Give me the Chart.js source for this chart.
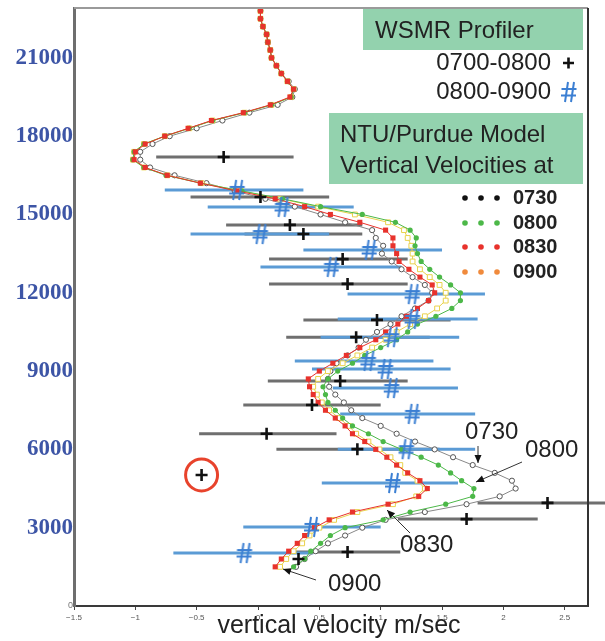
<!DOCTYPE html>
<html><head><meta charset="utf-8">
<script src="https://cdn.jsdelivr.net/npm/chart.js@4.4.1/dist/chart.umd.min.js"></script>
<style>html,body{margin:0;padding:0;background:#fff;}#wrap{width:605px;height:641px;}</style>
</head><body><div id="wrap"><canvas id="c" width="605" height="641"></canvas></div>
<script>
// ---------- DATA ----------
const heights = [1500,1800,2100,2400,2700,3000,3300,3600,3900,4200,4500,4800,5100,5400,5700,6000,6300,6600,6900,7200,7500,7800,8100,8400,8700,9000,9300,9600,9900,10200,10500,10800,11100,11400,11700,12000,12300,12600,12900,13200,13500,13800,14100,14400,14700,15000,15300,15600,15900,16200,16500,16800,17100,17400,17700,18000,18300,18600,18900,19200,19500,19800,20100,20400,20700,21000,21300,21600,21900,22200,22500,22800];
const model0730 = [0.31,0.38,0.47,0.57,0.71,0.85,1.04,1.36,1.70,1.97, 2.10,2.07,1.93,1.75,1.59,1.44,1.28,1.13,1.00,0.85, 0.76,0.70,0.63,0.58,0.57,0.59,0.64,0.73,0.82,0.88, 0.97,1.08,1.17,1.28,1.39,1.42,1.36,1.26,1.17,1.09, 1.01,1.02,0.96,0.93,0.71,0.51,0.30,0.06,-0.19,-0.42, -0.68,-0.88,-0.96,-0.96,-0.86,-0.72,-0.50,-0.29,-0.07,0.16, 0.28,0.30,0.25,0.19,0.15,0.11,0.10,0.08,0.07,0.04, 0.02,0.02];
const model0800 = [0.29,0.38,0.43,0.51,0.59,0.71,1.02,1.24,1.53,1.75, 1.76,1.66,1.57,1.47,1.33,1.17,1.02,0.90,0.77,0.69, 0.63,0.57,0.55,0.53,0.57,0.65,0.77,0.87,1.00,1.13, 1.22,1.30,1.45,1.58,1.65,1.65,1.57,1.48,1.40,1.33, 1.30,1.28,1.29,1.24,1.12,0.85,0.51,0.20,-0.13,-0.47, -0.75,-0.93,-1.02,-1.01,-0.93,-0.76,-0.56,-0.37,-0.11,0.11, 0.27,0.29,0.24,0.19,0.15,0.11,0.10,0.08,0.07,0.04, 0.02,0.02];
const model0830 = [0.14,0.19,0.25,0.32,0.38,0.46,0.58,0.77,1.06,1.31, 1.38,1.32,1.22,1.13,1.05,0.96,0.87,0.77,0.71,0.63, 0.55,0.49,0.45,0.42,0.41,0.50,0.61,0.72,0.83,0.96, 1.04,1.14,1.21,1.30,1.39,1.44,1.42,1.32,1.23,1.15, 1.13,1.10,1.10,1.04,0.83,0.59,0.38,0.14,-0.17,-0.47, -0.74,-0.92,-1.01,-1.00,-0.92,-0.76,-0.57,-0.38,-0.12,0.10, 0.26,0.29,0.24,0.19,0.15,0.11,0.10,0.08,0.07,0.04, 0.02,0.02];
const model0900 = [0.18,0.23,0.29,0.36,0.42,0.50,0.62,0.81,1.10, 1.29,1.36,1.30,1.20, 1.16,1.08,0.99,0.90,0.80,0.74,0.66,0.58,0.52,0.48,0.45, 0.49,0.57,0.69,0.81,0.93,1.04,1.13,1.24,1.36,1.46,1.53,1.53,1.48,1.40,1.32,1.26,1.26,1.25,1.22,1.19,1.06,0.79,0.49, 0.18,-0.14,-0.46,-0.74,-0.93,-1.02,-1.01,-0.93,-0.76,-0.56,-0.37,-0.11,0.11,0.27,0.29,0.24,0.19,0.15,0.11,0.10,0.08,0.07,0.04,0.02,0.02];

// WSMR profiler 0700-0800 (+): height, value, bar min, bar max
const obs1H   = [17200,15670,14600,14250,13290,12340,10960,10300,8620,7700,6600,6010,5020,3950,3330,2070,1800];
const obs1X   = [-0.28,0.02,0.26,0.37,0.69,0.73,0.97,0.80,0.67,0.44,0.07,0.81,-0.46,2.36,1.70,0.73,0.33];
const obs1Min = [-0.83,-0.55,-0.26,-0.11,0.09,0.09,0.37,0.23,0.08,-0.12,-0.48,0.15,-0.46,1.79,1.14,0.31,0.33];
const obs1Max = [0.29,0.58,0.85,0.85,1.22,1.22,1.57,1.40,1.22,1.00,0.64,1.48,-0.46,2.83,2.28,1.16,0.33];
// WSMR profiler 0800-0900 (#)
const obs2H   = [15940,15290,14250,13640,12990,11950,11000,10300,9390,9080,8350,7360,6010,4710,3030,2030];
const obs2X   = [-0.17,0.20,0.02,0.91,0.60,1.26,1.26,1.09,0.90,1.04,1.09,1.26,1.21,1.10,0.44,-0.11];
const obs2Min = [-0.76,-0.41,-0.55,0.37,0.02,0.73,0.65,0.51,0.30,0.44,0.61,0.67,0.65,0.52,-0.12,-0.69];
const obs2Max = [0.37,0.78,0.58,1.50,1.17,1.85,1.79,1.64,1.43,1.57,1.63,1.77,1.77,1.63,1.00,0.45];
// circled point
const circledX = [-0.46];
const circledH = [5020];

const xTickValues = [-1.5,-1,-0.5,0,0.5,1,1.5,2,2.5];
const yTickValues = [0,3000,6000,9000,12000,15000,18000,21000];
const modelTimes = ['0730','0800','0830','0900'];

// ---------- BUILD ----------
const pts = (xs) => xs.map((v,i)=>({x:v,y:heights[i]}));
function barPts(H,mn,mx){const o=[];H.forEach((h,i)=>{o.push({x:mn[i],y:h},{x:mx[i],y:h},{x:null,y:null});});return o;}

const hashImg = document.createElement('canvas');
hashImg.width = 18; hashImg.height = 22;
(function(){const g=hashImg.getContext('2d');g.strokeStyle='#3b7fd3';g.lineWidth=2;g.lineCap='butt';g.beginPath();
g.moveTo(8,1);g.lineTo(5,21);g.moveTo(14,1);g.lineTo(11,21);
g.moveTo(1.5,8);g.lineTo(16.5,8);g.moveTo(1,14.5);g.lineTo(16,14.5);g.stroke();})();

const C_BLUEBAR='#5b9bd5', C_GREYBAR='#6f6f6f';
const C_0730='#555', C_0800='#4cb848', C_0830='#e8322c', C_0900='#e9d24c';

const datasets = [
 {label:'plus', data:obs1X.map((v,i)=>({x:v,y:obs1H[i]})), pointStyle:'cross', pointRadius:6, pointBorderWidth:2.6, pointBorderColor:'#111', order:0},
 {label:'hash', data:obs2X.map((v,i)=>({x:v,y:obs2H[i]})), pointStyle:hashImg, pointRadius:8, order:1},
 {label:'circle', data:circledX.map((v,i)=>({x:v,y:circledH[i]})), pointStyle:'circle', pointRadius:16, pointBorderWidth:3, pointBorderColor:'#e8432c', pointBackgroundColor:'rgba(0,0,0,0)', order:2},
 {label:'0830', data:pts(model0830), showLine:true, borderColor:C_0830, borderWidth:1, pointStyle:'rect', pointRadius:3.6, pointBackgroundColor:C_0830, pointBorderColor:C_0830, pointBorderWidth:0, order:3},
 {label:'0800', data:pts(model0800), showLine:true, borderColor:C_0800, borderWidth:1, pointStyle:'circle', pointRadius:2.6, pointBackgroundColor:C_0800, pointBorderColor:C_0800, pointBorderWidth:0, order:4},
 {label:'0900', data:pts(model0900), showLine:true, borderColor:C_0900, borderWidth:1, pointStyle:'rect', pointRadius:3.4, pointBackgroundColor:'#fff', pointBorderColor:C_0900, pointBorderWidth:1, order:5},
 {label:'0730', data:pts(model0730), showLine:true, borderColor:'#888', borderWidth:1, pointStyle:'circle', pointRadius:2.6, pointBackgroundColor:'#fff', pointBorderColor:C_0730, pointBorderWidth:1, order:6},
 {label:'bars2', data:barPts(obs2H,obs2Min,obs2Max), showLine:true, spanGaps:false, borderColor:C_BLUEBAR, borderWidth:3, pointRadius:0, order:7},
 {label:'bars1', data:barPts(obs1H,obs1Min,obs1Max), showLine:true, spanGaps:false, borderColor:C_GREYBAR, borderWidth:3, pointRadius:0, clip:false, order:8}
];

function arrow(ctx,x1,y1,x2,y2){ctx.beginPath();ctx.moveTo(x1,y1);ctx.lineTo(x2,y2);ctx.stroke();
 const a=Math.atan2(y2-y1,x2-x1),L=8,W=3.5;ctx.beginPath();ctx.moveTo(x2,y2);
 ctx.lineTo(x2-L*Math.cos(a)+W*Math.sin(a),y2-L*Math.sin(a)-W*Math.cos(a));
 ctx.lineTo(x2-L*Math.cos(a)-W*Math.sin(a),y2-L*Math.sin(a)+W*Math.cos(a));ctx.closePath();ctx.fill();}

const decor = {
 id:'decor',
 afterDraw(chart){
  const ctx=chart.ctx, a=chart.chartArea;
  ctx.save();
  // frame top/right
  ctx.strokeStyle='#9a9a9a';ctx.lineWidth=2;ctx.beginPath();ctx.moveTo(a.left,a.top);ctx.lineTo(a.right,a.top);ctx.stroke();
  ctx.strokeStyle='#333';ctx.lineWidth=2;ctx.beginPath();ctx.moveTo(a.right,a.top);ctx.lineTo(a.right,a.bottom);ctx.stroke();
  // legend boxes
  ctx.fillStyle='#93d2ae';
  ctx.fillRect(363,9,220,41);
  ctx.fillRect(329,113,254,71);
  ctx.fillStyle='#222';ctx.textBaseline='middle';
  ctx.font='24px "Liberation Sans", Arial, sans-serif';
  ctx.textAlign='left';
  ctx.fillText('WSMR Profiler',375,31);
  ctx.textAlign='right';
  ctx.fillText('0700-0800',551,63);
  ctx.fillText('0800-0900',551,92);
  ctx.textAlign='left';
  ctx.fillText('NTU/Purdue Model',340,135);
  ctx.fillText('Vertical Velocities at',340,166);
  // legend markers
  ctx.strokeStyle='#111';ctx.lineWidth=2.6;ctx.beginPath();ctx.moveTo(563,63);ctx.lineTo(574,63);ctx.moveTo(568.5,57.5);ctx.lineTo(568.5,68.5);ctx.stroke();
  ctx.drawImage(hashImg,560,81);
  const cols=['#111',C_0800,C_0830,'#f08a3c'], rows=[198,223,247,272];
  ctx.font='bold 20px "Liberation Sans", Arial, sans-serif';
  modelTimes.forEach((t,i)=>{
    ctx.fillStyle=cols[i];
    [465,481,497].forEach(x=>{ctx.beginPath();ctx.arc(x,rows[i],2.8,0,Math.PI*2);ctx.fill();});
    ctx.fillStyle='#222';ctx.fillText(t,513,rows[i]);
  });
  // annotations
  ctx.font='24px "Liberation Sans", Arial, sans-serif';
  ctx.fillStyle='#222';ctx.strokeStyle='#333';ctx.lineWidth=1;
  ctx.fillText('0730',465,432);
  ctx.fillText('0800',525,450);
  ctx.fillText('0830',400,545);
  ctx.fillText('0900',328,584);
  ctx.fillStyle='#111';
  arrow(ctx,478,446,478,463);
  arrow(ctx,522,462,476,482);
  arrow(ctx,410,533,387,510);
  arrow(ctx,316,580,283,569);
  // axis title
  ctx.fillStyle='#222';ctx.textAlign='center';
  ctx.font='25px "Liberation Sans", Arial, sans-serif';
  ctx.fillText('vertical velocity m/sec',339,626);
  ctx.restore();
 }
};

new Chart(document.getElementById('c'),{
 type:'scatter',
 data:{datasets},
 options:{
  responsive:false, animation:false, devicePixelRatio:1, events:[],
  layout:{autoPadding:false, padding:{left:0,right:17,top:8,bottom:0}},
  plugins:{legend:{display:false},tooltip:{enabled:false}},
  scales:{
   x:{type:'linear',min:-1.5,max:2.69,
      afterBuildTicks:s=>{s.ticks=xTickValues.map(v=>({value:v}));},
      ticks:{maxRotation:0,autoSkip:false,padding:3,color:'#555',font:{family:'"Liberation Sans", Arial',size:8},
             callback:v=>(v<0?'\u2212':'')+Math.abs(v)},
      grid:{display:true,drawOnChartArea:false,drawTicks:true,tickLength:4,color:'#444',lineWidth:1},
      border:{display:true,color:'#3a3a3a',width:2},
      afterFit:s=>{s.height=35;s.paddingLeft=0;s.paddingRight=0;}},
   y:{type:'linear',min:0,max:22910,
      afterBuildTicks:s=>{s.ticks=yTickValues.map(v=>({value:v}));},
      ticks:{autoSkip:false,padding:1,
        color:c=>(c.tick&&c.tick.value===0)?'#777':'#3d55a6',
        font:c=>(c.tick&&c.tick.value===0)?{family:'"Liberation Sans", Arial',size:9}:{family:'"Liberation Serif", "Times New Roman", serif',size:23,weight:'bold'},
        callback:v=>String(v)},
      grid:{display:false,drawTicks:false,tickLength:0},
      border:{display:true,color:'#6e6e6e',width:3},
      afterFit:s=>{s.width=74;s.paddingTop=0;s.paddingBottom=0;}}
  }
 },
 plugins:[decor]
});
</script></body></html>
